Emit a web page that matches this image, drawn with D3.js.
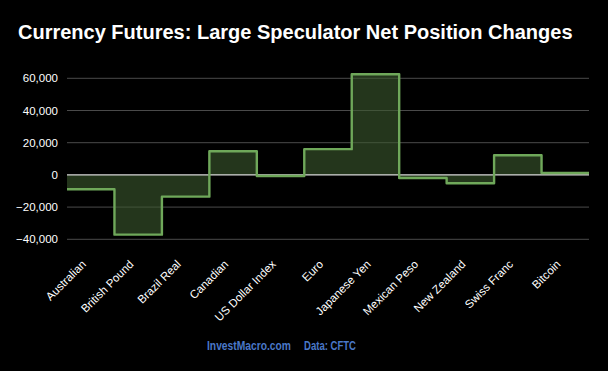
<!DOCTYPE html>
<html>
<head>
<meta charset="utf-8">
<script src="https://cdn.jsdelivr.net/npm/d3@7"></script>
<style>
  body { margin: 0; background: #000; }
  text { font-family: "Liberation Sans", Arial, sans-serif; }
</style>
</head>
<body>
<div id="chart"></div>
<script>
var categories = ["Australian", "British Pound", "Brazil Real", "Canadian", "US Dollar Index",
  "Euro", "Japanese Yen", "Mexican Peso", "New Zealand", "Swiss Franc", "Bitcoin"];
var netChange = [-8900, -37100, -13500, 14700, -700, 16000, 62500, -1900, -5200, 12200, 1200];
var yTicks = [-40000, -20000, 0, 20000, 40000, 60000];

var W = 608, H = 371;
var margin = {top: 60, right: 19, bottom: 131, left: 67};
var width = W - margin.left - margin.right,
    height = H - margin.top - margin.bottom;

var svg = d3.select("#chart").append("svg")
    .attr("width", W).attr("height", H)
    .style("background", "#000");

svg.append("text")
    .attr("x", 18).attr("y", 39)
    .attr("fill", "#fff")
    .attr("font-size", 20)
    .attr("font-weight", "bold")
    .text("Currency Futures: Large Speculator Net Position Changes");

var g = svg.append("g")
    .attr("transform", "translate(" + margin.left + "," + margin.top + ")");

var x = d3.scaleBand().domain(categories).range([0, width]).padding(0);
// 0 at 175px, 20k per ~32.2px
var y = d3.scaleLinear().domain([-40000, 60000]).range([239.3 - margin.top, 78.3 - margin.top]);

// gridlines
g.append("g").selectAll("line")
    .data(yTicks.filter(function(d){ return d != 0; }))
    .enter().append("line")
    .attr("x1", 0).attr("x2", width)
    .attr("y1", function(d){ return y(d); })
    .attr("y2", function(d){ return y(d); })
    .attr("stroke", "#4a4a4a").attr("stroke-width", 1);

// y labels
g.append("g").selectAll("text")
    .data(yTicks)
    .enter().append("text")
    .attr("x", -9)
    .attr("y", function(d){ return y(d); })
    .attr("dy", "0.35em")
    .attr("text-anchor", "end")
    .attr("fill", "#fff")
    .attr("font-size", 11.5)
    .text(function(d){ return d3.format(",")(d); });

// step points: one at each category's start, plus the right edge
var pts = categories.map(function(c, i){ return [x(c), netChange[i]]; });
pts.push([width, netChange[netChange.length - 1]]);

var area = d3.area()
    .x(function(d){ return d[0]; })
    .y0(y(0))
    .y1(function(d){ return y(d[1]); })
    .curve(d3.curveStepAfter);

var line = d3.line()
    .x(function(d){ return d[0]; })
    .y(function(d){ return y(d[1]); })
    .curve(d3.curveStepAfter);

g.append("path").datum(pts)
    .attr("d", area)
    .attr("fill", "#3c5a2e").attr("fill-opacity", 0.6);

// zero line
g.append("line")
    .attr("x1", 0).attr("x2", width)
    .attr("y1", y(0)).attr("y2", y(0))
    .attr("stroke", "#d8d8d8").attr("stroke-width", 1.2);

g.append("path").datum(pts)
    .attr("d", line)
    .attr("fill", "none")
    .attr("stroke", "#6fa85a")
    .attr("stroke-width", 2.4)
    .attr("stroke-linejoin", "round");

// x labels
g.append("g").selectAll("text")
    .data(categories)
    .enter().append("text")
    .attr("transform", function(d){
      var cx = x(d) + x.bandwidth() / 2 - 4;
      return "translate(" + cx + "," + (265 - margin.top) + ") rotate(-45)";
    })
    .attr("text-anchor", "end")
    .attr("fill", "#fff")
    .attr("font-size", 11.5)
    .text(function(d){ return d; });

// footer (condensed look)
var footStyle = function(t){
  t.attr("y", 350)
   .attr("font-size", 12.5)
   .attr("font-weight", "bold")
   .attr("fill", "#4a78c8")
   .attr("lengthAdjust", "spacingAndGlyphs");
};
svg.append("text").call(footStyle).attr("x", 207).attr("textLength", 84).text("InvestMacro.com");
svg.append("text").call(footStyle).attr("x", 304).attr("textLength", 52).text("Data: CFTC");
</script>
</body>
</html>
